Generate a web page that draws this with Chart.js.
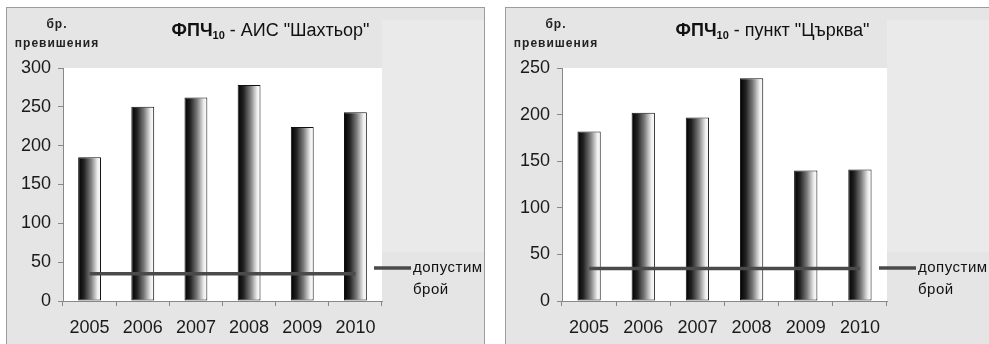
<!DOCTYPE html>
<html>
<head>
<meta charset="utf-8">
<script src="https://cdn.jsdelivr.net/npm/chart.js@4.4.1/dist/chart.umd.min.js"></script>
<style>
  html, body { margin: 0; padding: 0; background: #ffffff; overflow: hidden; }
  body { width: 989px; height: 344px; position: relative; }
  .frame { position: absolute; background: #e5e5e5; border: 1px solid #9c9c9c; box-sizing: border-box; }
  #f1 { left: 6px; top: 7px; width: 479px; height: 346px; }
  #f2 { left: 505px; top: 7px; width: 495px; height: 346px; }
  canvas { position: absolute; left: 0; top: 0; }
</style>
</head>
<body>
<div class="frame" id="f1"><canvas id="c1" width="477" height="336"></canvas></div>
<div class="frame" id="f2"><canvas id="c2" width="483" height="336"></canvas></div>
<script>
// ---- data ----
const years = ['2005', '2006', '2007', '2008', '2009', '2010'];
const shahtyorValues = [185, 250, 262, 278, 224, 243];
const tsarkvaValues = [182, 202, 197, 239, 140, 141];
const limitShahtyor = [35, 35, 35, 35, 35, 35];
const limitTsarkva = [35, 35, 35, 35, 35, 35];
const limitLabel = ['допустим', 'брой'];
const yAxisTitle = ['бр.', 'превишения'];
const titleMain = 'ФПЧ';
const titleSub = '10';
const titleLeftRest = ' - АИС "Шахтьор"';
const titleRightRest = ' - пункт "Църква"';
const yMaxLeft = 300;
const yMaxRight = 250;
const yStep = 50;

const FONT = "'Liberation Sans', Arial, sans-serif";
const BAR_PCT = 0.43;

function barGradient(ctx) {
  const chart = ctx.chart;
  if (!chart.chartArea) return '#777';
  const xs = chart.scales.x;
  const c = xs.getPixelForValue(ctx.dataIndex);
  const w = xs.width / chart.data.labels.length * BAR_PCT;
  const g = chart.ctx.createLinearGradient(c - w / 2, 0, c + w / 2, 0);
  g.addColorStop(0, '#000000');
  g.addColorStop(0.25, '#222222');
  g.addColorStop(0.55, '#7a7a7a');
  g.addColorStop(0.85, '#eeeeee');
  g.addColorStop(1, '#ffffff');
  return g;
}

const decorPlugin = {
  id: 'decor',
  beforeDraw(chart) {
    const { ctx, chartArea: a, width } = chart;
    ctx.save();
    // slightly lighter band right of plot (reference look)
    ctx.fillStyle = '#eaeaea';
    ctx.fillRect(a.right, 12, width - a.right, 232);
    ctx.fillStyle = '#ffffff';
    ctx.fillRect(a.left, a.top, a.right - a.left, a.bottom - a.top);
    ctx.restore();
  },
  afterDraw(chart, args, opts) {
    const { ctx, chartArea: a } = chart;
    ctx.save();
    // title
    ctx.fillStyle = '#111';
    ctx.textBaseline = 'alphabetic';
    const fMain = 'bold 18px ' + FONT;
    const fSub = 'bold 11px ' + FONT;
    const fRest = '18px ' + FONT;
    ctx.font = fMain; const w1 = ctx.measureText(titleMain).width;
    ctx.font = fSub; const w2 = ctx.measureText(titleSub).width;
    ctx.font = fRest; const w3 = ctx.measureText(opts.rest).width;
    const total = w1 + w2 + w3;
    let x = (a.left + a.right) / 2 + 48 - total / 2;
    const by = 28;
    ctx.textAlign = 'left';
    ctx.font = fMain; ctx.fillText(titleMain, x, by); x += w1;
    ctx.font = fSub; ctx.fillText(titleSub, x, by + 3); x += w2;
    ctx.font = fRest; ctx.fillText(opts.rest, x, by);
    // y axis title
    ctx.font = 'bold 12px ' + FONT;
    ctx.textAlign = 'center';
    ctx.fillStyle = '#222';
    ctx.letterSpacing = '1px';
    ctx.fillText(yAxisTitle[0], a.left - 6, 20);
    ctx.fillText(yAxisTitle[1], a.left - 6, 39);
    ctx.letterSpacing = '0px';
    // legend
    const ds = chart.data.datasets[1];
    const lx = a.right - 8;
    const yLine = a.bottom - 33;
    ctx.strokeStyle = ds.borderColor;
    ctx.lineWidth = ds.borderWidth;
    ctx.beginPath(); ctx.moveTo(lx, yLine); ctx.lineTo(lx + 37, yLine); ctx.stroke();
    ctx.font = '15px ' + FONT;
    ctx.fillStyle = '#111';
    ctx.textAlign = 'left';
    ctx.textBaseline = 'middle';
    ctx.letterSpacing = '0.5px';
    ctx.fillText(ds.label[0], lx + 39, yLine);
    ctx.fillText(ds.label[1], lx + 39, yLine + 22);
    ctx.restore();
  }
};

function makeChart(id, values, limits, yMax, rest) {
  return new Chart(document.getElementById(id), {
    data: {
      labels: years,
      datasets: [
        {
          type: 'bar',
          data: values,
          backgroundColor: barGradient,
          borderColor: '#111',
          borderWidth: 1,
          borderSkipped: false,
          categoryPercentage: 1,
          barPercentage: BAR_PCT,
          order: 1
        },
        {
          type: 'line',
          label: limitLabel,
          data: limits,
          borderColor: '#4a4a4a',
          borderWidth: 3.5,
          pointRadius: 0,
          fill: false,
          order: 0
        }
      ]
    },
    options: {
      responsive: false,
      animation: false,
      events: [],
      layout: { padding: { top: 60, right: 102, left: 0, bottom: 0 } },
      plugins: {
        legend: { display: false },
        tooltip: { enabled: false },
        title: { display: false },
        decor: { rest: rest }
      },
      scales: {
        x: {
          type: 'category',
          offset: true,
          grid: { offset: true, drawOnChartArea: false, tickLength: 5, color: '#888' },
          border: { display: true, color: '#888', width: 1 },
          ticks: { font: { family: FONT, size: 18 }, color: '#1a1a1a', padding: 11, maxRotation: 0 },
          afterFit(scale) { scale.height = 43; }
        },
        y: {
          min: 0,
          max: yMax,
          ticks: { stepSize: yStep, font: { family: FONT, size: 18 }, color: '#1a1a1a', padding: 7 },
          grid: { drawOnChartArea: false, tickLength: 5, color: '#888' },
          border: { display: true, color: '#888', width: 1 },
          afterFit(scale) { scale.width = 56; }
        }
      }
    },
    plugins: [decorPlugin]
  });
}

makeChart('c1', shahtyorValues, limitShahtyor, yMaxLeft, titleLeftRest);
makeChart('c2', tsarkvaValues, limitTsarkva, yMaxRight, titleRightRest);
</script>
</body>
</html>
